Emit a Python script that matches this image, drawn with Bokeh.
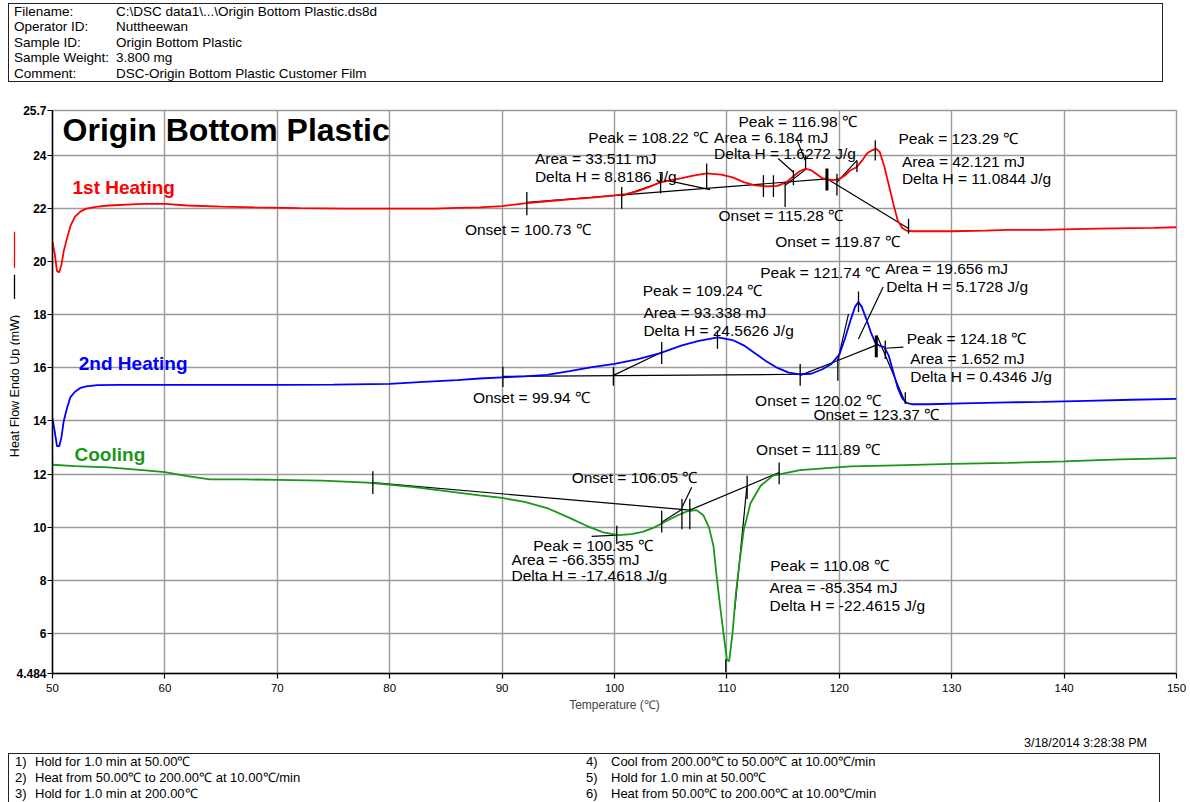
import math
from bokeh.plotting import figure
from bokeh.models import Range1d, FixedTicker, Div, ColumnDataSource
from bokeh.layouts import column, row
from bokeh.core.properties import value
from bokeh.embed import file_html
from bokeh.resources import INLINE

# ---------------- data ----------------
heat1_T = [50.0, 50.2, 50.4, 50.6, 50.8, 51.0, 51.3, 51.6, 52.0, 52.5, 53.0, 54.0, 55.0, 58.0, 60.0, 62.0,
           65.0, 68.0, 72.0, 76.0, 80.0, 84.0, 86.0, 88.0, 90.0, 92.0, 94.0, 96.0, 98.0, 100.0, 101.0, 102.0,
           103.0, 104.0, 105.0, 106.0, 107.0, 108.2, 109.5, 110.5, 111.5, 112.5, 113.5, 114.5, 115.3, 116.0,
           116.5, 117.0, 117.5, 118.0, 118.5, 119.0, 119.5, 120.0, 120.5, 121.0, 121.5, 122.0, 122.5, 123.0,
           123.3, 123.6, 124.0, 124.4, 124.8, 125.2, 125.6, 126.0, 126.5, 128.0, 130.0, 133.0, 135.0, 138.0,
           140.0, 143.0, 146.0, 148.0, 150.0]
heat1_hf = [20.75, 20.3, 19.65, 19.6, 19.9, 20.4, 20.9, 21.35, 21.7, 21.9, 22.0, 22.08, 22.12, 22.18, 22.18, 22.12,
            22.08, 22.05, 22.02, 22.0, 22.0, 22.0, 22.03, 22.05, 22.1, 22.2, 22.28, 22.35, 22.42, 22.5, 22.55, 22.65,
            22.8, 22.98, 23.08, 23.15, 23.25, 23.33, 23.28, 23.18, 23.0, 22.88, 22.84, 22.86, 23.0, 23.25,
            23.42, 23.5, 23.45, 23.3, 23.15, 23.1, 23.08, 23.12, 23.25, 23.45, 23.55, 23.8, 24.1, 24.22,
            24.25, 24.14, 23.6, 22.9, 22.2, 21.55, 21.27, 21.17, 21.15, 21.15, 21.15, 21.17, 21.2, 21.2,
            21.22, 21.25, 21.27, 21.28, 21.3]

heat2_T = [50.0, 50.2, 50.4, 50.6, 50.8, 51.0, 51.3, 51.6, 52.0, 52.5, 53.0, 54.0, 56.0, 60.0, 65.0, 70.0,
           75.0, 80.0, 83.0, 86.0, 88.0, 90.0, 92.0, 94.0, 96.0, 98.0, 100.0, 102.0, 104.0, 106.0, 107.5, 109.2,
           110.5, 111.5, 112.5, 113.5, 114.5, 115.5, 116.5, 117.5, 118.5, 119.3, 120.0, 120.5, 121.0, 121.4,
           121.7, 122.0, 122.4, 122.8, 123.2, 123.6, 124.0, 124.4, 124.8, 125.2, 125.6, 126.0, 126.5, 128.0,
           131.0, 135.0, 138.0, 142.0, 146.0, 150.0]
heat2_hf = [14.1, 13.6, 13.05, 13.05, 13.4, 14.0, 14.5, 14.9, 15.1, 15.25, 15.3, 15.35, 15.36, 15.36, 15.36, 15.36,
            15.37, 15.4, 15.47, 15.54, 15.6, 15.64, 15.68, 15.74, 15.88, 16.03, 16.15, 16.32, 16.55, 16.85, 17.02, 17.15,
            17.05, 16.85, 16.55, 16.25, 16.0, 15.82, 15.76, 15.78, 15.95, 16.15, 16.5, 17.1, 17.8, 18.3,
            18.48, 18.3, 17.85, 17.35, 16.95, 16.83, 16.78, 16.46, 15.85, 15.25, 14.85, 14.68, 14.63, 14.63,
            14.66, 14.7, 14.72, 14.76, 14.8, 14.83]

cool_T = [50.0, 52.0, 55.0, 58.0, 60.0, 62.0, 64.0, 67.0, 70.0, 74.0, 78.0, 82.0, 85.0, 88.0, 90.0, 92.0,
          94.0, 96.0, 97.5, 99.0, 100.35, 101.5, 102.5, 103.5, 104.5, 105.5, 106.5, 107.3, 107.9, 108.4, 108.8,
          109.1, 109.4, 109.7, 110.0, 110.2, 110.5, 110.8, 111.1, 111.5, 112.1, 113.0, 114.1, 116.5, 121.0,
          125.0, 130.0, 135.0, 140.0, 145.0, 150.0]
cool_hf = [12.35, 12.3, 12.25, 12.15, 12.07, 11.92, 11.8, 11.8, 11.78, 11.75, 11.68, 11.52, 11.36, 11.2, 11.1, 10.95,
           10.72, 10.35, 10.05, 9.8, 9.7, 9.74, 9.82, 9.98, 10.2, 10.42, 10.6, 10.64, 10.45, 10.0, 9.3,
           8.1, 7.0, 6.0, 5.0, 4.95, 6.0, 7.5, 8.6, 9.9, 10.9, 11.56, 11.94, 12.15, 12.29,
           12.33, 12.38, 12.42, 12.48, 12.55, 12.6]

x_ticks = [50, 60, 70, 80, 90, 100, 110, 120, 130, 140, 150]
y_ticks = [4.484, 6, 8, 10, 12, 14, 16, 18, 20, 22, 24, 25.7]
y_tick_labels = ["4.484", "6", "8", "10", "12", "14", "16", "18", "20", "22", "24", "25.7"]

# analysis limit markers (temperature, low, high)
h1_mark_T = [92.2, 100.64, 104.1, 108.2, 113.25, 114.14, 115.18, 115.92, 117.0, 119.79, 121.57, 123.2, 126.16]
h1_mark_lo = [21.75, 22.0, 22.57, 22.75, 22.44, 22.44, 22.06, 22.88, 23.51, 22.5, 23.38, 23.82, 21.06]
h1_mark_hi = [22.63, 22.82, 23.32, 23.7, 23.26, 23.26, 23.0, 23.45, 24.01, 23.32, 23.82, 24.58, 21.62]
h2_mark_T = [90.07, 99.9, 104.2, 109.16, 116.52, 119.87, 121.71, 124.09, 125.87]
h2_mark_lo = [15.28, 15.33, 16.15, 16.72, 15.33, 15.52, 18.1, 16.34, 14.64]
h2_mark_hi = [16.04, 16.03, 16.98, 17.41, 16.15, 16.34, 18.88, 17.03, 15.08]
c_mark_T = [78.5, 100.2, 104.2, 106.0, 106.7, 109.9, 111.8, 114.65]
c_mark_lo = [11.25, 9.36, 9.8, 9.92, 9.92, 4.53, 11.06, 11.62]
c_mark_hi = [12.11, 10.05, 10.62, 11.06, 11.06, 5.02, 11.94, 12.44]
thick_mark_T = [118.9, 123.29]
thick_mark_lo = [22.69, 16.4]
thick_mark_hi = [23.51, 17.22]

# baselines / tangents / pointers
h1_line_T0 = [92.2, 100.64, 104.65, 115.18, 118.9, 119.8, 116.2, 114.56]
h1_line_v0 = [22.24, 22.48, 23.07, 22.88, 23.13, 23.0, 24.64, 23.89]
h1_line_T1 = [118.9, 104.65, 108.5, 117.11, 126.16, 121.57, 116.96, 115.9]
h1_line_v1 = [23.12, 23.07, 22.72, 23.51, 21.25, 23.82, 23.82, 23.38]
h2_line_T0 = [90.07, 99.9, 116.52, 119.87, 119.87, 123.35, 121.7, 124.09]
h2_line_v0 = [15.68, 15.72, 15.72, 16.28, 16.28, 17.22, 17.09, 16.74]
h2_line_T1 = [116.52, 104.2, 119.87, 120.82, 123.35, 125.87, 123.9, 125.7]
h2_line_v1 = [15.76, 16.59, 16.28, 18.04, 16.87, 14.7, 19.05, 16.78]
c_line_T0 = [78.5, 104.2, 106.7, 111.77, 106.0, 97.97]
c_line_v0 = [11.68, 10.18, 10.64, 11.5, 10.74, 9.65]
c_line_T1 = [106.7, 106.04, 114.65, 110.7, 106.87, 100.2]
c_line_v1 = [10.64, 10.68, 12.06, 6.9, 11.5, 9.7]

# result texts
result_text = ["Onset = 100.73 \u2103", "Area = 33.511 mJ", "Delta H = 8.8186 J/g", "Peak = 108.22 \u2103",
               "Area = 6.184 mJ", "Peak = 116.98 \u2103", "Delta H = 1.6272 J/g", "Onset = 115.28 \u2103",
               "Onset = 119.87 \u2103", "Peak = 123.29 \u2103", "Area = 42.121 mJ", "Delta H = 11.0844 J/g",
               "Peak = 109.24 \u2103", "Area = 93.338 mJ", "Delta H = 24.5626 J/g", "Peak = 121.74 \u2103",
               "Area = 19.656 mJ", "Delta H = 5.1728 J/g", "Peak = 124.18 \u2103", "Area = 1.652 mJ",
               "Delta H = 0.4346 J/g", "Onset = 99.94 \u2103", "Onset = 120.02 \u2103", "Onset = 123.37 \u2103",
               "Onset = 111.89 \u2103", "Onset = 106.05 \u2103", "Peak = 100.35 \u2103", "Area = -66.355 mJ",
               "Delta H = -17.4618 J/g", "Peak = 110.08 \u2103", "Area = -85.354 mJ", "Delta H = -22.4615 J/g"]
result_T = [86.69, 92.92, 92.92, 97.67, 108.86, 111.03, 108.86, 109.25, 114.3, 125.27, 125.57, 125.57,
            102.51, 102.57, 102.57, 112.96, 124.09, 124.18, 126.0, 126.31, 126.31, 87.4, 112.51, 117.7,
            112.6, 96.19, 92.77, 90.84, 90.84, 113.85, 113.79, 113.79]
result_v = [21.22, 23.89, 23.23, 24.7, 24.7, 25.3, 24.08, 21.75, 20.77, 24.64, 23.79, 23.13,
            18.92, 18.1, 17.41, 19.61, 19.74, 19.07, 17.12, 16.34, 15.67, 14.89, 14.77, 14.26,
            12.94, 11.88, 9.29, 8.79, 8.16, 8.54, 7.72, 7.06]

series_names = ["1st Heating", "2nd Heating", "Cooling"]
series_colors = ["#ff0000", "#0000ff", "#1a961a"]
series_label_T = [51.78, 52.34, 51.96]
series_label_v = [22.8, 16.15, 12.75]

header_labels = ["Filename:", "Operator ID:", "Sample ID:", "Sample Weight:", "Comment:"]
header_values = ["C:\\DSC data1\\...\\Origin Bottom Plastic.ds8d", "Nuttheewan", "Origin Bottom Plastic",
                 "3.800 mg", "DSC-Origin Bottom Plastic Customer Film"]
method_steps = ["Hold for 1.0 min at 50.00\u2103",
                "Heat from 50.00\u2103 to 200.00\u2103 at 10.00\u2103/min",
                "Hold for 1.0 min at 200.00\u2103",
                "Cool from 200.00\u2103 to 50.00\u2103 at 10.00\u2103/min",
                "Hold for 1.0 min at 50.00\u2103",
                "Heat from 50.00\u2103 to 200.00\u2103 at 10.00\u2103/min"]
timestamp = "3/18/2014 3:28:38 PM"

FONT = "Liberation Sans"
CSS_FONT = "'Liberation Sans', Arial, sans-serif"

# ---------------- main plot ----------------
p = figure(width=1175, height=634, x_range=Range1d(50, 150), y_range=Range1d(4.484, 25.7),
           output_backend="svg", toolbar_location=None,
           min_border_left=33, min_border_right=12, min_border_top=26, min_border_bottom=45,
           margin=(0, 0, 0, -7))
p.background_fill_color = "white"
p.border_fill_color = None
p.outline_line_color = "#9a9a9a"
p.outline_line_width = 1.4

p.xaxis.ticker = FixedTicker(ticks=x_ticks)
p.yaxis.ticker = FixedTicker(ticks=y_ticks)
p.yaxis.major_label_overrides = {t: s for t, s in zip(y_ticks, y_tick_labels)}
for ax in (p.xaxis[0], p.yaxis[0]):
    ax.axis_line_color = "black"
    ax.axis_line_width = 1.5
    ax.major_tick_line_color = "black"
    ax.major_tick_line_width = 1.2
    ax.major_tick_out = 5
    ax.major_tick_in = 0
    ax.minor_tick_line_color = None
    ax.major_label_text_font = FONT
    ax.major_label_text_color = "black"
p.yaxis.major_label_text_font_size = "12px"
p.yaxis.major_label_text_font_style = "bold"
p.yaxis.major_label_standoff = 1
p.xaxis.major_label_text_font_size = "11.5px"
p.xaxis.major_label_standoff = 5
p.xaxis.axis_label = "Temperature (\u2103)"
p.xaxis.axis_label_text_font = FONT
p.xaxis.axis_label_text_font_size = "12px"
p.xaxis.axis_label_text_font_style = "normal"
p.xaxis.axis_label_standoff = 3
p.xgrid.grid_line_color = "#9a9a9a"
p.ygrid.grid_line_color = "#9a9a9a"
p.xgrid.grid_line_width = 1.4
p.ygrid.grid_line_width = 1.4

# analysis lines
for T0, v0, T1, v1 in ((h1_line_T0, h1_line_v0, h1_line_T1, h1_line_v1),
                       (h2_line_T0, h2_line_v0, h2_line_T1, h2_line_v1),
                       (c_line_T0, c_line_v0, c_line_T1, c_line_v1)):
    p.segment(x0=T0, y0=v0, x1=T1, y1=v1, line_color="black", line_width=1.2)

# curves
for T, hf, col in ((heat1_T, heat1_hf, series_colors[0]),
                   (heat2_T, heat2_hf, series_colors[1]),
                   (cool_T, cool_hf, series_colors[2])):
    src = ColumnDataSource(dict(T=T, hf=hf))
    p.line("T", "hf", source=src, line_color=col, line_width=1.8)

# markers
for T, lo, hi in ((h1_mark_T, h1_mark_lo, h1_mark_hi),
                  (h2_mark_T, h2_mark_lo, h2_mark_hi),
                  (c_mark_T, c_mark_lo, c_mark_hi)):
    p.segment(x0=T, y0=lo, x1=T, y1=hi, line_color="black", line_width=1.3)
p.segment(x0=thick_mark_T, y0=thick_mark_lo, x1=thick_mark_T, y1=thick_mark_hi, line_color="black", line_width=3)

# result texts
p.text(x=result_T, y=result_v, text=result_text, text_font=value(FONT), text_font_size="15.5px",
       text_align="left", text_baseline="middle", text_color="black")

# title and series labels
p.text(x=[50.9], y=[24.98], text=["Origin Bottom Plastic"], text_font=value(FONT), text_font_size="32px",
       text_font_style="bold", text_align="left", text_baseline="middle", text_color="black")
p.text(x=series_label_T, y=series_label_v, text=series_names, text_color=series_colors,
       text_font=value(FONT), text_font_size="19px", text_font_style="bold",
       text_align="left", text_baseline="middle")

# ---------------- y label strip ----------------
s = figure(width=20, height=634, x_range=Range1d(0, 20), y_range=Range1d(4.484, 25.7),
           output_backend="svg", toolbar_location=None, x_axis_type=None, y_axis_type=None,
           min_border_left=0, min_border_right=0, min_border_top=26, min_border_bottom=45, margin=0)
s.outline_line_color = None
s.xgrid.visible = False
s.ygrid.visible = False
s.border_fill_color = "white"
s.text(x=[14], y=[15.32], text=["Heat Flow Endo Up (mW)"], angle=math.pi / 2, text_font=value(FONT),
       text_font_size="12.5px", text_align="center", text_baseline="middle", text_color="black")
s.segment(x0=[14], y0=[19.77], x1=[14], y1=[21.13], line_color="#ff0000", line_width=1.3)
s.segment(x0=[14], y0=[18.6], x1=[14], y1=[19.51], line_color="black", line_width=1.3)

# ---------------- header / footer ----------------
rows_html = "".join(
    f'<div style="height:15.4px;white-space:nowrap"><span style="display:inline-block;width:102px">{a}</span>{b}</div>'
    for a, b in zip(header_labels, header_values))
header = Div(text=f'<div style="box-sizing:border-box;margin:3px 0 0 8px;width:1155px;height:79px;'
                  f'border:1.5px solid #222;padding:0 0 0 5px;font-family:{CSS_FONT};font-size:13.5px;'
                  f'line-height:15.4px;color:#000">{rows_html}</div>', width=1168, height=84, margin=0)

stamp = Div(text=f'<div style="box-sizing:border-box;width:1168px;height:30px;text-align:right;'
                 f'padding:18px 21px 0 0;font-family:{CSS_FONT};font-size:12.5px;line-height:14px;color:#000">'
                 f'{timestamp}</div>', width=1168, height=30, margin=0)


def step_col(items, start, numw, colw):
    return (f'<div style="width:{colw}px">' + "".join(
        f'<div style="height:16px;white-space:nowrap"><span style="display:inline-block;width:{numw}px">{start + i})</span>{t}</div>'
        for i, t in enumerate(items)) + '</div>')


footer = Div(text=f'<div style="box-sizing:border-box;margin:5px 0 0 8px;width:1152px;height:49px;'
                  f'border:1.5px solid #222;border-bottom:none;padding:0 0 0 6px;display:flex;'
                  f'font-family:{CSS_FONT};font-size:13px;line-height:16px;color:#000">'
                  f'{step_col(method_steps[:3], 1, 20, 571)}{step_col(method_steps[3:], 4, 25, 560)}</div>',
             width=1168, height=54, margin=0)

layout = column(header, row(s, p, margin=0), stamp, footer, margin=0)

with open("out.html", "w") as f:
    f.write(file_html(layout, INLINE))
